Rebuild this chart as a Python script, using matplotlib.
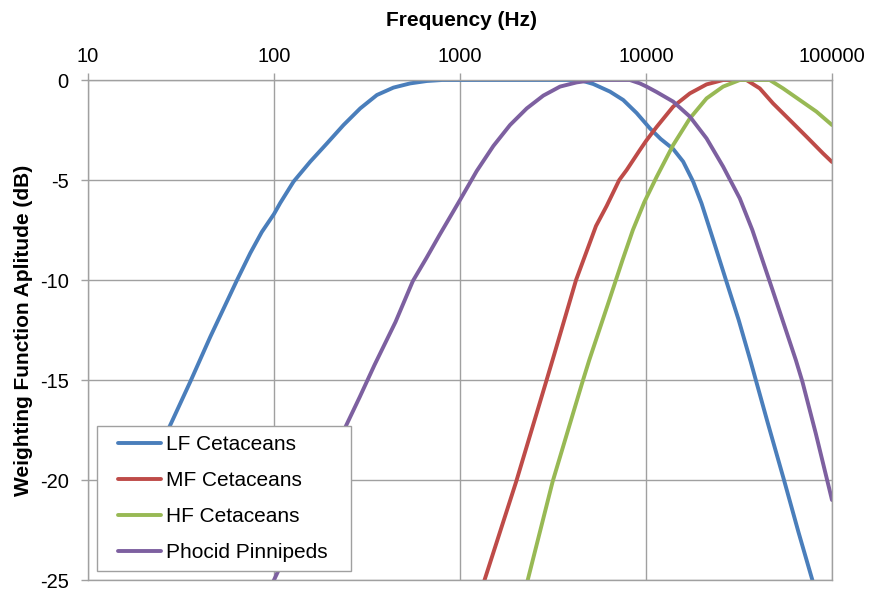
import numpy as np
import matplotlib
matplotlib.use('Agg')
import matplotlib.pyplot as plt
from matplotlib.ticker import FixedLocator, FuncFormatter, NullLocator

plt.rcParams['font.family'] = ['Liberation Sans', 'DejaVu Sans']
plt.rcParams['axes.unicode_minus'] = False

# values (frequency in Hz, weighting in dB)
lf_freq = [20, 27.7, 35.5, 45.5, 63.3, 74.6, 86, 100, 108, 127.4, 156.7, 192.6, 236.5,
           290.8, 357.5, 438.8, 539.6, 663, 800, 4400, 5205, 6400, 7544, 8903, 10500,
           12000, 14000, 15840, 17930, 19890, 23000, 26900, 31500, 36600, 45000, 55200,
           66000, 78400, 90000]
lf_db = [-19.9, -17.25, -15.08, -12.83, -10, -8.65, -7.6, -6.7, -6.15, -5.08, -4.08, -3.17,
         -2.25, -1.42, -0.75, -0.38, -0.17, -0.05, 0, 0, -0.2, -0.58, -1.0, -1.65, -2.42,
         -2.95, -3.45, -4.08, -5.08, -6.17, -8.0, -10, -12.0, -14.1, -17.1, -20.0,
         -22.6, -25, -27]

mf_freq = [1200, 1355, 2005, 2905, 3215, 4207, 5385, 6142, 7180, 7870, 9270, 10000, 11400,
           14000, 17210, 21160, 25980, 34680, 40900, 48200, 59290, 72880, 89480, 100000]
mf_db = [-27, -25, -20.08, -15.08, -13.7, -10, -7.3, -6.3, -5.0, -4.5, -3.5, -3.05, -2.35,
         -1.33, -0.67, -0.22, 0, 0, -0.42, -1.17, -2.0, -2.83, -3.67, -4.1]

hf_freq = [2100, 2313, 3148, 4560, 4955, 6350, 7480, 8500, 9800, 11400, 14000, 17210,
           21160, 25980, 31930, 46250, 54560, 67080, 82440, 100000]
hf_db = [-27, -25, -20.08, -15.08, -14, -11, -9, -7.5, -6.1, -4.85, -3.25, -1.92,
         -0.92, -0.33, 0, 0, -0.42, -1.0, -1.58, -2.25]

pp_freq = [90, 100, 245, 289, 347, 450, 558, 660, 776, 1000, 1230, 1511, 1858, 2285, 2805,
           3449, 4238, 5205, 8195, 9270, 10070, 11400, 14000, 17210, 21160, 25980, 31930,
           37300, 47900, 63900, 69300, 81800, 100000]
pp_db = [-26, -25, -17.25, -15.85, -14.25, -12.1, -10.05, -8.9, -7.75, -6.0, -4.55, -3.3,
         -2.25, -1.42, -0.78, -0.33, -0.12, 0, 0, -0.17, -0.33, -0.6, -1.08, -1.83, -2.92,
         -4.33, -5.92, -7.5, -10.5, -14, -15.08, -17.67, -21]

series = [
    ('LF Cetaceans', lf_freq, lf_db, '#4A7EBB'),
    ('MF Cetaceans', mf_freq, mf_db, '#BE4B48'),
    ('HF Cetaceans', hf_freq, hf_db, '#98B954'),
    ('Phocid Pinnipeds', pp_freq, pp_db, '#7D60A0'),
]

x_ticks = [10, 100, 1000, 10000, 100000]
y_ticks = [0, -5, -10, -15, -20, -25]

W, H = 869, 592
fig = plt.figure(figsize=(W / 100, H / 100), dpi=100)
ax = fig.add_axes([88 / W, (H - 580) / H, 744 / W, 500 / H])

grid_col = '#A0A0A0'
for name, f, d, c in series:
    ax.plot(f, d, color=c, lw=2.8, label=name, solid_joinstyle='round',
            solid_capstyle='round')

ax.set_xscale('log')
ax.set_xlim(10, 100000)
ax.set_ylim(-25, 0)
ax.xaxis.set_major_locator(FixedLocator(x_ticks))
ax.xaxis.set_minor_locator(NullLocator())
ax.xaxis.set_major_formatter(FuncFormatter(lambda v, p: f'{int(round(v))}'))
ax.yaxis.set_major_locator(FixedLocator(y_ticks))
ax.yaxis.set_major_formatter(FuncFormatter(lambda v, p: f'{int(round(v))}'))
ax.xaxis.tick_top()
ax.tick_params(axis='both', colors=grid_col, labelcolor='black', labelsize=14.5,
               length=5, width=1)
ax.tick_params(axis='x', pad=5)
ax.tick_params(axis='y', pad=9)
ax.grid(True, color=grid_col, lw=1)
ax.set_axisbelow(True)
for s in ax.spines.values():
    s.set_color(grid_col)
    s.set_linewidth(1)

ax.set_ylabel('Weighting Function Aplitude (dB)', fontsize=15, fontweight='bold')
ax.yaxis.set_label_coords(-0.0739, 0.5)
fig.text(461 / W, 1 - 20 / H, 'Frequency (Hz)', ha='center', va='center',
         fontsize=15, fontweight='bold')

leg = ax.legend(loc='lower left', bbox_to_anchor=(9 / 744, 9 / 500, 254 / 744, 146 / 500),
                mode='expand', borderaxespad=0, fontsize=15, handlelength=2.65,
                handletextpad=0.24, labelspacing=0.82, borderpad=0.42,
                fancybox=False, framealpha=1, edgecolor=grid_col)
leg.get_frame().set_linewidth(1)
# indent the legend handles a little, like the original
for ln in leg.get_lines():
    xd = np.asarray(ln.get_xdata(), dtype=float)
    ln.set_xdata([xd[0] + 0.22 * (xd[-1] - xd[0]), xd[-1]])
    ln.set_ydata(np.full(2, np.asarray(ln.get_ydata(), dtype=float)[0]))

fig.savefig('out.png', dpi=100)
